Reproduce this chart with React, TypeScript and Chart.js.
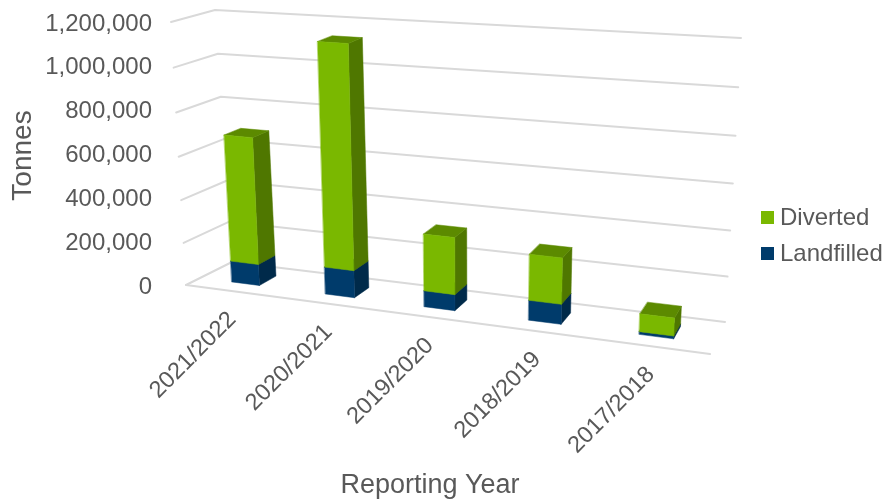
import React, { useEffect, useRef } from "react";
import { Chart, registerables } from "chart.js";

Chart.register(...registerables);

const categories = ["2021/2022", "2020/2021", "2019/2020", "2018/2019", "2017/2018"];
const landfilled = [100000, 126000, 73000, 89000, 12000];
const diverted = [588000, 1010000, 257000, 204000, 78000];
const yMax = 1200000;
const yStep = 200000;

const FONT = "'Liberation Sans', Arial, sans-serif";
const TEXT = "#595959";
const GRID = "#d9d9d9";
const GREEN = { front: "#7ab800", top: "#5c8a00", side: "#4f7700" };
const NAVY = { front: "#003b6b", top: "#002f55", side: "#002a4a" };

// Corners of the 3D box on screen: F/B front/back, B/T bottom/top, L/R left/right.
const FBL = [186, 285], FBR = [710, 354], FTL = [171, 22], FTR = [724, 59];
const BBL = [232, 262], BBR = [725, 322], BTL = [215, 10], BTR = [741, 38];
const warp = (t: number, r: number) => t / (t + (1 - t) * r);
const lerp = (a: number, b: number, t: number) => a + (b - a) * t;

// u, v, d are all in 0..1; u and v get a small perspective foreshortening.
function project(u: number, v: number, d: number, warpU = true) {
  const wu = warpU ? warp(u, 1.15) : u;
  const wv = warp(v, 1.05);
  const out = [0, 0];
  for (let i = 0; i < 2; i++) {
    const fb = lerp(FBL[i], FBR[i], wu);
    const ft = lerp(FTL[i], FTR[i], wu);
    const bb = lerp(BBL[i], BBR[i], wu);
    const bt = lerp(BTL[i], BTR[i], wu);
    out[i] = lerp(lerp(fb, ft, wv), lerp(bb, bt, wv), d);
  }
  return out;
}

function poly(ctx: CanvasRenderingContext2D, pts: number[][], fill: string) {
  ctx.beginPath();
  pts.forEach((p, i) => (i ? ctx.lineTo(p[0], p[1]) : ctx.moveTo(p[0], p[1])));
  ctx.closePath();
  ctx.fillStyle = fill;
  ctx.fill();
  ctx.strokeStyle = fill;
  ctx.lineWidth = 0.5;
  ctx.stroke();
}

const D0 = 0.31;
const D1 = 0.7;

const perspectivePlugin = {
  id: "perspective",
  beforeDatasetsDraw(chart: any) {
    const ctx: CanvasRenderingContext2D = chart.ctx;
    const { left, right, top, bottom } = chart.chartArea;
    const yScale = chart.scales.y;
    const U = (px: number) => (px - left) / (right - left);
    const V = (py: number) => (bottom - py) / (bottom - top);

    ctx.save();
    // gridlines: side wall, back wall, and the front edge of the floor
    ctx.strokeStyle = GRID;
    ctx.lineWidth = 2;
    ctx.lineCap = "round";
    ctx.lineJoin = "round";
    yScale.ticks.forEach((t: any) => {
      const v = V(yScale.getPixelForValue(t.value));
      const a = project(0, v, 0, false);
      const b = project(0, v, 1, false);
      const c = project(1, v, 1, false);
      ctx.beginPath();
      ctx.moveTo(a[0], a[1]);
      ctx.lineTo(b[0], b[1]);
      ctx.lineTo(c[0], c[1]);
      ctx.stroke();
    });
    const f0 = project(0, 0, 0, false);
    const f1 = project(1, 0, 0, false);
    ctx.beginPath();
    ctx.moveTo(f0[0], f0[1]);
    ctx.lineTo(f1[0], f1[1]);
    ctx.stroke();

    // category labels along the front edge of the floor
    const xScale = chart.scales.x;
    ctx.font = `23.5px ${FONT}`;
    ctx.fillStyle = TEXT;
    ctx.textAlign = "center";
    ctx.textBaseline = "middle";
    categories.forEach((label, i) => {
      const p = project(U(xScale.getPixelForValue(i)), 0, 0);
      ctx.save();
      ctx.translate(p[0] - 39, p[1] + 64);
      ctx.rotate(-Math.PI / 4);
      ctx.fillText(label, 0, 0);
      ctx.restore();
    });

    // bars as boxes, using the elements Chart.js laid out
    const palettes = [NAVY, GREEN];
    const metas = chart.data.datasets.map((_: any, i: number) => chart.getDatasetMeta(i));
    categories.forEach((_, i) => {
      metas.forEach((meta: any, s: number) => {
        const el = meta.data[i];
        const u0 = U(el.x - el.width / 2);
        const u1 = U(el.x + el.width / 2);
        const v0 = V(el.base);
        const v1 = V(el.y);
        const pal = palettes[s];
        poly(ctx, [project(u1, v0, D0), project(u1, v0, D1), project(u1, v1, D1), project(u1, v1, D0)], pal.side);
        poly(ctx, [project(u0, v1, D0), project(u1, v1, D0), project(u1, v1, D1), project(u0, v1, D1)], pal.top);
        poly(ctx, [project(u0, v0, D0), project(u1, v0, D0), project(u1, v1, D0), project(u0, v1, D0)], pal.front);
      });
    });

    // legend
    const legendItems = [chart.data.datasets[1], chart.data.datasets[0]];
    legendItems.forEach((ds: any, i: number) => {
      const y = 211 + i * 36;
      ctx.fillStyle = ds.backgroundColor;
      ctx.fillRect(761, y, 13, 13);
      ctx.fillStyle = TEXT;
      ctx.font = `24px ${FONT}`;
      ctx.textAlign = "left";
      ctx.textBaseline = "middle";
      ctx.fillText(ds.label, 780, y + 7);
    });
    ctx.restore();
    return false;
  },
};

export default function App() {
  const ref = useRef<HTMLCanvasElement>(null);
  useEffect(() => {
    const chart = new Chart(ref.current as HTMLCanvasElement, {
      type: "bar",
      data: {
        labels: categories,
        datasets: [
          { label: "Landfilled", data: landfilled, backgroundColor: NAVY.front, categoryPercentage: 0.3, barPercentage: 1 },
          { label: "Diverted", data: diverted, backgroundColor: GREEN.front, categoryPercentage: 0.3, barPercentage: 1 },
        ],
      },
      options: {
        animation: false,
        responsive: false,
        layout: { padding: { top: 24, right: 183, left: 0, bottom: 0 } },
        plugins: { legend: { display: false }, tooltip: { enabled: false } },
        scales: {
          x: {
            stacked: true,
            grid: { display: false },
            border: { display: false },
            ticks: { display: false },
            title: {
              display: true,
              text: "Reporting Year",
              color: TEXT,
              font: { family: FONT, size: 27, lineHeight: 1 },
              padding: { top: 0, bottom: 0 },
            },
            afterFit(scale: any) {
              scale.height = 212;
            },
          },
          y: {
            stacked: true,
            min: 0,
            max: yMax,
            grid: { display: false, drawTicks: false },
            border: { display: false },
            ticks: {
              stepSize: yStep,
              color: TEXT,
              padding: 8,
              font: { family: FONT, size: 24 },
              callback: (v: any) => Number(v).toLocaleString("en-US"),
            },
            title: {
              display: true,
              text: "Tonnes",
              color: TEXT,
              font: { family: FONT, size: 28 },
              padding: { top: 6, bottom: 0 },
            },
            afterFit(scale: any) {
              scale.width = 160;
            },
          },
        },
      },
      plugins: [perspectivePlugin],
    } as any);
    return () => chart.destroy();
  }, []);
  return (
    <div style={{ position: "absolute", left: 0, top: 0, width: 883, height: 499 }}>
      <canvas ref={ref} width={883} height={499} style={{ display: "block" }} />
    </div>
  );
}
